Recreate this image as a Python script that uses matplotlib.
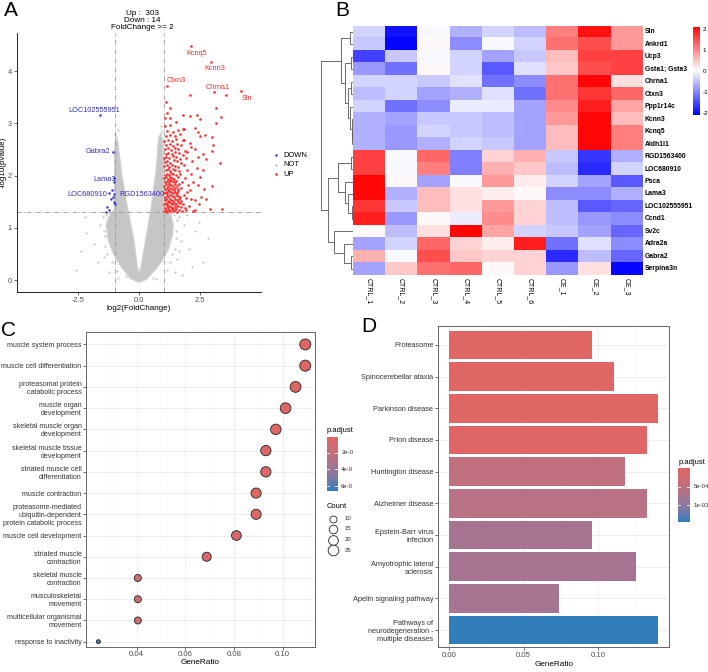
import numpy as np
import matplotlib.pyplot as plt
from matplotlib.colors import LinearSegmentedColormap, Normalize

plt.rcParams['font.family'] = ['Liberation Sans', 'DejaVu Sans']

# ---------------- A: volcano ----------------
n_up, n_down = 303, 14

up_pts = [
    (2.13, 4.48), (2.93, 4.17), (1.16, 3.71), (3.05, 3.59), (4.15, 3.61), (3.54, 3.55), (2.08, 3.54),
    (1.10, 3.40), (1.25, 3.30), (1.15, 3.20), (1.27, 3.10), (1.07, 3.10), (1.80, 3.16), (2.10, 3.14),
    (2.35, 3.16), (2.48, 3.08), (3.14, 3.30), (3.33, 3.13), (3.13, 3.00), (1.80, 2.90), (1.85, 2.90),
    (2.30, 2.92), (2.42, 2.84), (2.50, 2.76), (2.98, 2.74), (3.00, 2.47), (2.75, 2.32), (3.30, 2.25),
    (2.42, 1.82), (3.00, 1.80), (2.88, 1.37), (3.38, 1.37),
    (2.69, 2.78), (2.08, 2.62), (2.14, 2.55), (2.27, 2.51), (3.03, 2.58), (2.42, 2.36), (1.80, 2.68),
    (2.49, 1.98), (2.14, 2.04), (2.28, 1.53), (2.08, 1.72), (2.55, 1.60), (2.35, 2.15), (1.95, 2.45),
    (2.60, 2.10), (2.22, 1.88), (2.45, 1.45), (1.90, 1.58), (2.65, 1.75), (2.30, 1.35), (2.75, 1.55),
    (2.60, 2.42),
    (1.03, 1.32), (1.09, 1.34), (1.14, 1.31), (1.21, 1.35), (1.27, 1.33), (1.33, 1.36), (1.40, 1.32),
    (1.47, 1.34), (1.55, 1.31), (1.62, 1.35), (1.75, 1.33), (1.91, 1.34), (2.20, 1.32),
    (1.05, 1.39), (1.12, 1.41), (1.18, 1.38), (1.24, 1.42), (1.31, 1.40), (1.37, 1.38), (1.45, 1.41),
    (1.52, 1.39), (1.60, 1.42), (1.70, 1.40), (1.86, 1.38), (2.05, 1.41),
    (1.02, 1.46), (1.08, 1.48), (1.15, 1.45), (1.22, 1.49), (1.29, 1.47), (1.35, 1.45), (1.42, 1.48),
    (1.50, 1.46), (1.58, 1.49), (1.66, 1.47), (1.80, 1.45),
    (1.04, 1.53), (1.11, 1.55), (1.17, 1.52), (1.25, 1.56), (1.32, 1.54), (1.39, 1.52), (1.46, 1.55),
    (1.54, 1.53), (1.63, 1.56), (1.73, 1.52), (2.12, 1.55),
    (1.06, 1.60), (1.13, 1.62), (1.20, 1.59), (1.28, 1.63), (1.34, 1.61), (1.43, 1.60), (1.49, 1.63),
    (1.57, 1.61), (1.68, 1.59), (1.83, 1.62),
    (1.02, 1.67), (1.09, 1.69), (1.16, 1.66), (1.23, 1.70), (1.30, 1.68), (1.38, 1.66), (1.45, 1.69),
    (1.53, 1.67), (1.61, 1.70), (1.95, 1.68),
    (1.05, 1.74), (1.12, 1.76), (1.19, 1.73), (1.26, 1.77), (1.33, 1.75), (1.41, 1.73), (1.48, 1.76),
    (1.58, 1.74), (1.71, 1.77),
    (1.03, 1.81), (1.10, 1.83), (1.17, 1.80), (1.24, 1.84), (1.31, 1.82), (1.38, 1.80), (1.46, 1.83),
    (1.55, 1.81), (1.65, 1.84), (2.02, 1.82),
    (1.07, 1.88), (1.14, 1.90), (1.21, 1.87), (1.28, 1.91), (1.36, 1.89), (1.44, 1.87), (1.52, 1.90),
    (1.74, 1.88),
    (1.02, 1.95), (1.10, 1.97), (1.18, 1.94), (1.26, 1.98), (1.34, 1.96), (1.42, 1.94), (1.60, 1.97),
    (1.88, 1.95),
    (1.05, 2.02), (1.13, 2.04), (1.22, 2.01), (1.31, 2.05), (1.40, 2.03), (1.50, 2.01), (1.68, 2.04),
    (1.08, 2.10), (1.17, 2.12), (1.27, 2.09), (1.37, 2.13), (1.48, 2.11), (1.62, 2.08), (1.97, 2.10),
    (1.03, 2.18), (1.12, 2.20), (1.23, 2.17), (1.34, 2.21), (1.45, 2.19), (1.58, 2.17), (1.82, 2.20),
    (1.06, 2.26), (1.16, 2.28), (1.28, 2.25), (1.41, 2.29), (1.55, 2.27), (1.72, 2.24), (2.18, 2.27),
    (1.02, 2.34), (1.11, 2.36), (1.24, 2.33), (1.37, 2.37), (1.52, 2.35), (1.66, 2.32), (1.92, 2.34),
    (1.08, 2.42), (1.20, 2.44), (1.33, 2.41), (1.47, 2.45), (1.63, 2.43), (1.78, 2.40),
    (1.04, 2.50), (1.17, 2.52), (1.30, 2.49), (1.45, 2.53), (1.60, 2.51), (1.88, 2.48),
    (1.10, 2.58), (1.25, 2.60), (1.40, 2.57), (1.56, 2.61), (1.72, 2.59),
    (1.03, 2.67), (1.19, 2.69), (1.35, 2.66), (1.52, 2.70), (1.83, 2.68),
    (1.08, 2.76), (1.28, 2.78), (1.47, 2.75), (1.68, 2.79),
    (1.15, 2.86), (1.38, 2.84), (1.60, 2.88),
    (1.05, 2.95), (1.25, 2.97), (1.50, 3.02),
]

down_pts = [
    (-1.61, 3.16), (-1.05, 2.46), (-1.04, 1.95), (-1.02, 1.88), (-1.12, 1.72), (-1.03, 1.65),
    (-1.25, 1.66), (-1.08, 1.60), (-1.15, 1.55), (-1.02, 1.50), (-1.00, 1.45), (-1.30, 1.40),
    (-1.22, 1.35), (-1.35, 1.31),
]

grey_pts = [
    (-2.20, 1.21), (-2.16, 0.90), (-1.85, 0.70), (-1.60, 1.05), (-1.45, 0.45), (-1.70, 0.35),
    (-2.40, 0.55), (-1.35, 1.25), (-2.60, 0.20), (-1.25, 0.15), (1.55, 0.40), (1.70, 0.75),
    (1.85, 1.05), (2.05, 0.60), (2.30, 0.95), (2.46, 1.12), (1.65, 1.20), (1.95, 1.25),
    (2.60, 0.35), (1.45, 0.15), (2.15, 0.25), (1.30, 1.28), (2.80, 0.80), (0.95, 2.85),
    (1.75, 0.10), (-0.85, 0.05), (0.70, 0.02), (-1.40, 0.85), (1.50, 0.95), (-1.15, 1.10),
    (-1.45, 0.95), (-1.38, 0.65), (-1.10, 0.35), (-0.90, 0.18), (1.25, 0.35), (1.45, 0.60),
    (1.52, 0.80), (1.55, 1.15), (1.42, 1.25), (1.15, 0.20), (-1.18, 1.28), (-1.30, 0.50),
    (0.55, 0.05), (-0.55, 0.08), (0.90, 2.95), (-0.85, 2.88), (-0.98, 2.80), (1.35, 0.50),
    (-1.50, 1.20), (1.62, 0.55),
]

# outline of the dense cloud of non-significant genes
cloud_fc = [0.0, 0.3, 0.7, 1.0, 1.2, 1.35, 1.4, 1.3, 1.0, 1.0, 0.97, 0.9, 0.8,
            0.7, 0.5, 0.27, 0.08, 0.0, -0.08, -0.22, -0.49, -0.72, -0.88, -0.95,
            -1.0, -1.0, -1.25, -1.35, -1.25, -1.05, -0.72, -0.35]
cloud_logp = [-0.04, 0.02, 0.22, 0.42, 0.6, 0.85, 1.05, 1.25, 1.32, 2.0, 2.6, 2.82, 2.72,
              2.1, 1.4, 0.77, 0.25, 0.12, 0.25, 0.77, 1.4, 2.04, 2.65, 2.75,
              2.5, 1.35, 1.2, 1.05, 0.75, 0.5, 0.25, 0.03]

up_labels = {'Kcnq5': (2.36, 4.34), 'Kcnn3': (3.10, 4.04), 'Ctxn3': (1.50, 3.81),
             'Chrna1': (3.23, 3.68), 'Sln': (4.41, 3.47)}
down_labels = {'LOC102555951': (-1.82, 3.24), 'Gabra2': (-1.70, 2.47), 'Lama3': (-1.43, 1.93),
               'LOC680910': (-2.11, 1.63), 'RGD1563400': (0.10, 1.63)}

# ---------------- B: heatmap ----------------
samples = ['CTRL_1', 'CTRL_2', 'CTRL_3', 'CTRL_4', 'CTRL_5', 'CTRL_6', 'CE_1', 'CE_2', 'CE_3']
genes = ['Sln', 'Ankrd1', 'Ucp3', 'Gsta1; Gsta3', 'Chrna1', 'Ctxn3', 'Ppp1r14c', 'Kcnn3', 'Kcnq5',
         'Aldh1l1', 'RGD1563400', 'LOC680910', 'Psca', 'Lama3', 'LOC102555951', 'Ccnd1', 'Sv2c',
         'Adra2a', 'Gabra2', 'Serpina3n']
heat = [
    [-0.3, -1.9, 0.0, -0.6, -0.3, -0.5, 1.1, 2.0, 0.9],
    [-0.4, -2.0, 0.1, -0.9, 0.0, -0.3, 1.2, 1.5, 0.9],
    [-1.5, -0.4, 0.0, -0.3, -0.7, -0.4, 0.6, 1.6, 1.6],
    [-0.8, -1.1, 0.1, -0.3, -1.3, -0.2, 0.5, 1.5, 1.6],
    [-0.3, -0.3, -0.4, -0.2, -1.1, -0.9, 1.2, 2.1, 0.3],
    [-0.5, -0.3, -0.7, -0.6, -0.2, -1.1, 1.2, 1.7, 1.3],
    [-0.3, -1.1, -0.9, -0.1, -0.1, -0.7, 1.0, 1.9, 0.8],
    [-0.6, -0.7, -0.4, -0.4, -0.5, -0.7, 0.9, 2.1, 0.6],
    [-0.6, -0.8, -0.3, -0.4, -0.5, -0.7, 0.6, 2.1, 1.1],
    [-0.6, -0.8, -0.6, -0.3, -0.4, -0.7, 0.6, 2.1, 1.1],
    [1.6, 0.0, 1.3, -1.0, 0.4, 0.7, -0.4, -1.6, -0.6],
    [1.6, 0.0, 1.1, -1.0, 0.7, 0.5, -0.5, -1.7, -0.3],
    [2.1, 0.1, -0.7, 0.0, 0.9, 0.2, -0.3, -0.7, -1.3],
    [2.1, -0.6, 0.6, 0.3, 0.2, 0.1, -0.9, -0.9, -0.6],
    [1.7, -0.4, 0.6, 0.3, 0.9, 0.4, -0.5, -1.3, -1.2],
    [1.9, -0.8, 0.1, -0.1, 1.0, 0.4, -0.5, -0.8, -0.9],
    [0.1, -0.5, 0.3, 2.1, 0.8, -0.3, -0.4, -0.7, -1.2],
    [-0.7, -0.3, 1.3, 0.4, 0.2, 1.9, -1.1, -0.2, -0.9],
    [0.7, 0.0, 1.5, 0.5, 0.4, 0.4, -1.7, -0.5, -1.2],
    [-0.7, 0.5, 1.2, 1.3, 0.1, 0.4, -0.8, 0.3, -2.0],
]
# row clustering: (child a, child b, height); ids >= 20 are earlier merges
tree = [(0, 1, 3.0), (2, 3, 2.0), (8, 9, 0.7), (7, 22, 1.3), (6, 23, 3.0), (4, 5, 2.0),
        (25, 24, 5.3), (21, 26, 8.0), (20, 27, 12.0), (10, 11, 2.0), (14, 15, 0.7),
        (13, 30, 4.7), (12, 31, 8.0), (29, 32, 15.3), (18, 19, 2.0), (17, 34, 8.7),
        (16, 35, 18.7), (33, 36, 24.7), (28, 37, 32.0)]

# ---------------- C: GO dot plot ----------------
go_terms = ['muscle system process', 'muscle cell differentiation',
            'proteasomal protein\ncatabolic process', 'muscle organ\ndevelopment',
            'skeletal muscle organ\ndevelopment', 'skeletal muscle tissue\ndevelopment',
            'striated muscle cell\ndifferentiation', 'muscle contraction',
            'proteasome-mediated\nubiquitin-dependent\nprotein catabolic process',
            'muscle cell development', 'striated muscle\ncontraction',
            'skeletal muscle\ncontraction', 'musculoskeletal\nmovement',
            'multicellular organismal\nmovement', 'response to inactivity']
go_count = [27, 27, 26, 25, 24, 23, 23, 22, 22, 20, 17, 10, 10, 10, 6]
go_ratio = [0.1093, 0.1093, 0.1053, 0.1012, 0.0972, 0.0931, 0.0931, 0.0891, 0.0891,
            0.0810, 0.0688, 0.0405, 0.0405, 0.0405, 0.0243]
go_padj = [0.05e-5, 0.06e-5, 0.1e-5, 0.15e-5, 0.2e-5, 0.3e-5, 0.3e-5, 0.35e-5, 0.4e-5,
           0.6e-5, 0.9e-5, 1.1e-5, 1.1e-5, 1.2e-5, 6.6e-5]

# ---------------- D: KEGG bar plot ----------------
kegg_terms = ['Proteasome', 'Spinocerebellar ataxia', 'Parkinson disease', 'Prion disease',
              'Huntington disease', 'Alzheimer disease', 'Epstein-Barr virus\ninfection',
              'Amyotrophic lateral\nsclerosis', 'Apelin signaling pathway',
              'Pathways of\nneurodegeneration -\nmultiple diseases']
kegg_ratio = [0.0956, 0.1103, 0.1397, 0.1324, 0.1176, 0.1324, 0.0956, 0.1250, 0.0735, 0.1397]
kegg_padj = [1.2e-5, 1.5e-5, 2.0e-5, 3.0e-5, 4.9e-4, 5.6e-4, 7.4e-4, 7.5e-4, 7.6e-4, 1.436e-3]

# ================================================================
W, H = 708, 672
fig = plt.figure(figsize=(W / 100, H / 100), dpi=100)


def px_axes(l, t, r, b):
    return fig.add_axes([l / W, 1 - b / H, (r - l) / W, (b - t) / H])


def fx(x):
    return x / W


def fy(y):
    return 1 - y / H


enrich_cmap = LinearSegmentedColormap.from_list(
    'enrich', ['#e06663', '#cb6d77', '#a9748f', '#8079a6', '#327eba'])
tick_col = '#4d4d4d'

for letter, x, y in [('A', 11, 11), ('B', 342, 10), ('C', 8, 331), ('D', 369, 327)]:
    fig.text(fx(x), fy(y), letter, fontsize=15, ha='center', va='center')

# ---- A ----
ax = px_axes(17, 33.4, 261.3, 292.2)
ax.set_xlim(-5, 5)
ax.set_ylim(-0.23, 4.72)
ax.fill(cloud_fc, cloud_logp, color='#c6c6c6', lw=1.0, ec='#d0d0d0', zorder=1)
gx, gy = zip(*grey_pts)
ax.scatter(gx, gy, s=2.4, c='#c4c4c4', lw=0, zorder=1)
ux, uy = zip(*up_pts)
ax.scatter(ux, uy, s=3.6, c='#ff1a1a', lw=0, alpha=0.9, zorder=3)
dx, dy = zip(*down_pts)
ax.scatter(dx, dy, s=3.2, c='#3535d0', lw=0, zorder=3)
dash = (0, (6, 2, 1, 2))
for v in (-1, 1):
    ax.axvline(v, color='#9a9a9a', lw=0.6, ls=dash, zorder=2)
ax.axhline(-np.log10(0.05), color='#9a9a9a', lw=0.6, ls=dash, zorder=2)
for name, (x, y) in up_labels.items():
    ax.text(x, y, name, color='#ee2a2a', fontsize=5.3, ha='center', va='center', zorder=4)
for name, (x, y) in down_labels.items():
    ax.text(x, y, name, color='#3030cc', fontsize=5.3, ha='center', va='center', zorder=4)
ax.spines[['top', 'right']].set_visible(False)
for s in ('left', 'bottom'):
    ax.spines[s].set_linewidth(0.6)
ax.set_xticks([-2.5, 0, 2.5], ['-2.5', '0.0', '2.5'])
ax.set_yticks([0, 1, 2, 3, 4])
ax.tick_params(labelsize=5.4, length=2, width=0.5, colors='#333333', labelcolor=tick_col, pad=1.5)
ax.set_xlabel('log2(FoldChange)', fontsize=5.8, labelpad=1)
ax.set_ylabel('-log10(pvalue)', fontsize=5.8, labelpad=1)
fig.text(fx(142), fy(20.5), f'Up :  {n_up}\nDown : {n_down}\nFoldChange >= 2',
         ha='center', va='center', fontsize=5.9, linespacing=1.05)
for lab, col, y in [('DOWN', '#3535d0', 155.3), ('NOT', '#c4c4c4', 164.7), ('UP', '#ff1a1a', 174)]:
    ax.plot([fx(276)], [fy(y)], 'o', ms=1.8, mew=0, color=col, transform=fig.transFigure, clip_on=False)
    fig.text(fx(283), fy(y), lab, fontsize=5.4, va='center')

# ---- B ----
hmin, hmax = -2.05, 2.15
heat_cmap = LinearSegmentedColormap.from_list('bwr2', ['#0000ff', '#ffffff', '#ff0000'])
axh = px_axes(353, 25.7, 642.7, 275)
axh.imshow(np.array(heat), cmap=heat_cmap, vmin=hmin, vmax=hmax, aspect='auto',
           interpolation='nearest')
axh.axis('off')
for i, g in enumerate(genes):
    axh.text(8.57, i, g, fontsize=4.9, fontweight='bold', va='center', ha='left')
for j, s in enumerate(samples):
    axh.text(j, 19.75, s, fontsize=5.0, rotation=270, ha='center', va='top')

axt = px_axes(320, 25.7, 353, 275)
pos = {i: (float(i), 0.0) for i in range(len(genes))}
for k, (a, b, h) in enumerate(tree):
    ya, ha_ = pos[a]
    yb, hb = pos[b]
    axt.plot([ha_, h, h, hb], [ya, ya, yb, yb], color='#555555', lw=0.6, solid_capstyle='butt')
    pos[len(genes) + k] = ((ya + yb) / 2, h)
axt.set_xlim(33, 0)
axt.set_ylim(19.5, -0.5)
axt.axis('off')

axcb = px_axes(693, 26.7, 700, 115)
axcb.imshow(np.linspace(hmax, hmin, 256)[:, None], cmap=heat_cmap, vmin=hmin, vmax=hmax,
            aspect='auto', extent=[0, 1, hmin, hmax])
axcb.axis('off')
for v in (2, 1, 0, -1, -2):
    axcb.text(1.4, v, str(v), fontsize=4.5, va='center', ha='left')


# ---- C ----
def dot_size(c):
    d = 4 + 7 * np.sqrt((np.asarray(c, float) - 6) / 21)
    return (d * 0.72) ** 2


axc = px_axes(86, 331.7, 315, 647)
go_norm = Normalize(min(go_padj), max(go_padj))
yc = np.arange(len(go_terms))
axc.scatter(go_ratio, yc, s=dot_size(go_count), c=go_padj, cmap=enrich_cmap, norm=go_norm,
            edgecolors='#222222', linewidths=0.6, zorder=3)
axc.set_xlim(0.0192, 0.1133)
axc.set_ylim(14.25, -0.6)
axc.set_yticks(yc, go_terms, fontsize=5.1, linespacing=1.2)
axc.set_xticks([0.04, 0.06, 0.08, 0.10], ['0.04', '0.06', '0.08', '0.10'])
axc.set_xticks([0.03, 0.05, 0.07, 0.09, 0.11], minor=True)
axc.grid(which='major', color='#ebebeb', lw=0.6)
axc.grid(which='minor', axis='x', color='#f3f3f3', lw=0.35)
axc.set_axisbelow(True)
axc.tick_params(length=2, width=0.5, colors='#333333', pad=1.2)
axc.tick_params(axis='y', labelsize=5.1)
axc.tick_params(axis='x', labelcolor=tick_col, labelsize=5.6)
axc.tick_params(which='minor', length=0)
for sp in axc.spines.values():
    sp.set_color('#666666')
    sp.set_linewidth(0.7)
axc.set_xlabel('GeneRatio', fontsize=5.9, labelpad=0.5)

fig.text(fx(327), fy(431), 'p.adjust', fontsize=5.4, va='center')
axl = px_axes(327, 436.5, 337.5, 491)
axl.imshow(np.linspace(go_norm.vmin, go_norm.vmax, 256)[:, None], cmap=enrich_cmap, norm=go_norm,
           aspect='auto', extent=[0, 1, go_norm.vmax, go_norm.vmin])
for v in (2e-5, 4e-5, 6e-5):
    axl.plot([0, 0.2], [v, v], color='white', lw=0.6)
    axl.plot([0.8, 1], [v, v], color='white', lw=0.6)
    axl.text(1.35, v, f'{v:.0e}'[:4], fontsize=4.3, va='center', color='#333333')
axl.set_xlim(0, 1)
axl.axis('off')
fig.text(fx(327), fy(507), 'Count', fontsize=5.4, va='center')
for c, y in zip([10, 15, 20, 25], [519, 529, 539.5, 550]):
    axc.scatter([fx(333)], [fy(y)], s=dot_size(c), facecolors='white', edgecolors='#222222',
                linewidths=0.6, transform=fig.transFigure, clip_on=False)
    fig.text(fx(345), fy(y), str(c), fontsize=4.3, va='center', color='#333333')

# ---- D ----
axd = px_axes(438.3, 326, 669.3, 646.7)
kg_norm = Normalize(min(kegg_padj), max(kegg_padj))
yd = np.arange(len(kegg_terms))
axd.barh(yd, kegg_ratio, height=0.9, color=enrich_cmap(kg_norm(kegg_padj)), zorder=3)
axd.set_xlim(-0.007, 0.1475)
axd.set_ylim(9.53, -0.6)
axd.set_yticks(yd, kegg_terms, fontsize=5.3, linespacing=1.2)
axd.set_xticks([0, 0.05, 0.10], ['0.00', '0.05', '0.10'])
axd.set_xticks([0.025, 0.075, 0.125], minor=True)
axd.grid(which='major', color='#ebebeb', lw=0.6)
axd.grid(which='minor', axis='x', color='#f3f3f3', lw=0.35)
axd.set_axisbelow(True)
axd.tick_params(length=2, width=0.5, colors='#333333', pad=1.5)
axd.tick_params(axis='y', labelsize=5.3)
axd.tick_params(axis='x', labelcolor=tick_col, labelsize=5.6)
axd.tick_params(which='minor', length=0)
for sp in axd.spines.values():
    sp.set_color('#666666')
    sp.set_linewidth(0.7)
axd.set_xlabel('GeneRatio', fontsize=5.9, labelpad=1.5)

fig.text(fx(679), fy(462), 'p.adjust', fontsize=5.4, va='center')
axl2 = px_axes(678, 468, 689.5, 522)
axl2.imshow(np.linspace(kg_norm.vmin, kg_norm.vmax, 256)[:, None], cmap=enrich_cmap, norm=kg_norm,
            aspect='auto', extent=[0, 1, kg_norm.vmax, kg_norm.vmin])
for v in (5e-4, 1e-3):
    axl2.plot([0, 0.2], [v, v], color='white', lw=0.6)
    axl2.plot([0.8, 1], [v, v], color='white', lw=0.6)
    axl2.text(1.35, v, f'{v:.0e}', fontsize=4.3, va='center', color='#333333')
axl2.set_xlim(0, 1)
axl2.axis('off')

fig.savefig('out.png', dpi=100)
